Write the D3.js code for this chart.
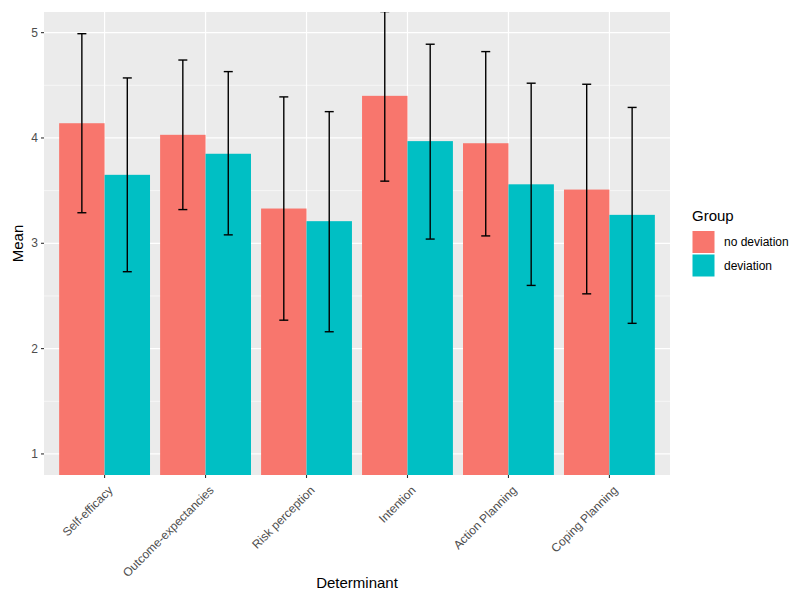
<!DOCTYPE html>
<html><head><meta charset="utf-8">
<script src="https://cdn.jsdelivr.net/npm/d3@7"></script>
<style>body{margin:0;background:#fff;font-family:"Liberation Sans",Arial,sans-serif}</style>
</head><body><svg id="c" width="800" height="605"></svg>
<script>
const categories = ["Self-efficacy","Outcome-expectancies","Risk perception","Intention","Action Planning","Coping Planning"];
const groups = ["no deviation","deviation"];
const colors = ["#F8766D","#00BFC4"];
const meanNoDev = [4.14,4.03,3.33,4.40,3.95,3.51];
const meanDev   = [3.65,3.85,3.21,3.97,3.56,3.27];
const lowNoDev  = [3.29,3.32,2.27,3.59,3.07,2.52];
const highNoDev = [4.99,4.74,4.39,5.20,4.82,4.51];
const lowDev    = [2.73,3.08,2.16,3.04,2.60,2.24];
const highDev   = [4.57,4.63,4.25,4.89,4.52,4.29];
const yTicks = [1,2,3,4,5];
const yMinor = [1.5,2.5,3.5,4.5];

const svg = d3.select("#c");
const L=44, R=670, T=12, B=475;
const y = d3.scaleLinear().domain([0.8,5.196]).range([B,T]);
const step = (R-L)/(categories.length-1+1.2);
const x = d3.scalePoint().domain(categories).range([L+0.6*step, R-0.6*step]);
const bw = step*0.45;

svg.append("rect").attr("x",L).attr("y",T).attr("width",R-L).attr("height",B-T).attr("fill","#EBEBEB");
const g = svg.append("g");
g.selectAll(".mn").data(yMinor).join("line").attr("x1",L).attr("x2",R).attr("y1",d=>y(d)).attr("y2",d=>y(d)).attr("stroke","#fff").attr("stroke-width",0.6);
g.selectAll(".mj").data(yTicks).join("line").attr("x1",L).attr("x2",R).attr("y1",d=>y(d)).attr("y2",d=>y(d)).attr("stroke","#fff").attr("stroke-width",1.2);
g.selectAll(".vx").data(categories).join("line").attr("x1",d=>x(d)).attr("x2",d=>x(d)).attr("y1",T).attr("y2",B).attr("stroke","#fff").attr("stroke-width",1.2);

svg.append("clipPath").attr("id","cp").append("rect").attr("x",L).attr("y",T).attr("width",R-L).attr("height",B-T);
const bars = svg.append("g").attr("clip-path","url(#cp)");
const series = [
  {m:meanNoDev, lo:lowNoDev, hi:highNoDev, off:-1},
  {m:meanDev, lo:lowDev, hi:highDev, off:0}
];
series.forEach((s,si)=>{
  bars.selectAll(".b"+si).data(categories).join("rect")
    .attr("x",d=>x(d)+s.off*bw).attr("width",bw)
    .attr("y",(d,i)=>y(s.m[i])).attr("height",(d,i)=>y(0)-y(s.m[i]))
    .attr("fill",colors[si]);
});
series.forEach((s,si)=>{
  const eg = bars.append("g").attr("stroke","#000").attr("stroke-width",1.4).attr("fill","none");
  categories.forEach((c,i)=>{
    const cx = x(c)+s.off*bw+bw/2;
    eg.append("line").attr("x1",cx).attr("x2",cx).attr("y1",y(s.lo[i])).attr("y2",y(s.hi[i]));
    eg.append("line").attr("x1",cx-4.5).attr("x2",cx+4.5).attr("y1",y(s.lo[i])).attr("y2",y(s.lo[i]));
    eg.append("line").attr("x1",cx-4.5).attr("x2",cx+4.5).attr("y1",y(s.hi[i])).attr("y2",y(s.hi[i]));
  });
});

// y axis
const ya = svg.append("g");
yTicks.forEach(t=>{
  ya.append("line").attr("x1",L-3).attr("x2",L).attr("y1",y(t)).attr("y2",y(t)).attr("stroke","#333").attr("stroke-width",1.1);
  ya.append("text").attr("x",L-6).attr("y",y(t)).attr("dy","0.35em").attr("text-anchor","end")
    .attr("font-size",12).attr("fill","#4D4D4D").text(t);
});
// x axis
const xa = svg.append("g");
categories.forEach(c=>{
  xa.append("line").attr("x1",x(c)).attr("x2",x(c)).attr("y1",B).attr("y2",B+3).attr("stroke","#333").attr("stroke-width",1.1);
  xa.append("text").attr("transform",`translate(${x(c)+3},${B+10}) rotate(-45)`).attr("text-anchor","end")
    .attr("dy","0.7em").attr("font-size",12).attr("fill","#4D4D4D").text(c);
});
svg.append("text").attr("x",(L+R)/2).attr("y",588).attr("text-anchor","middle").attr("font-size",15).attr("fill","#000").text("Determinant");
svg.append("text").attr("transform",`translate(23,${(T+B)/2}) rotate(-90)`).attr("text-anchor","middle").attr("font-size",15).attr("fill","#000").text("Mean");

// legend
const lg = svg.append("g").attr("transform","translate(692,0)");
lg.append("text").attr("x",0).attr("y",221).attr("font-size",15).attr("fill","#000").text("Group");
groups.forEach((gname,i)=>{
  lg.append("rect").attr("x",0.5).attr("y",231+i*23.5).attr("width",22).attr("height",22).attr("fill",colors[i]);
  lg.append("text").attr("x",32).attr("y",242+i*23.5).attr("dy","0.35em").attr("font-size",12).attr("fill","#000").text(gname);
});
</script></body></html>
